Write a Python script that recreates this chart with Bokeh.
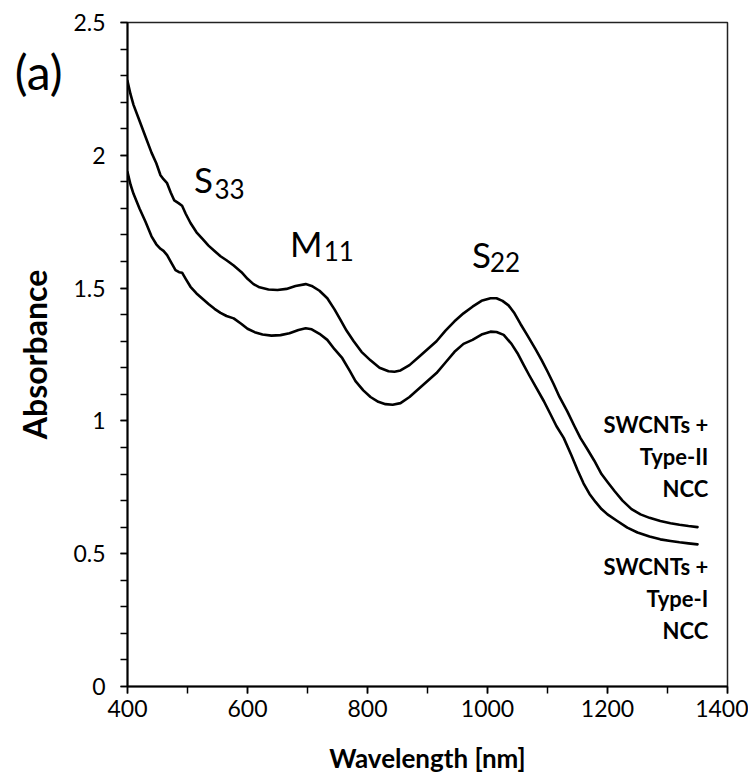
from bokeh.plotting import figure
from bokeh.models import Label, Range1d, SingleIntervalTicker, LinearAxis, FixedTicker
from bokeh.embed import file_html
from bokeh.resources import INLINE

# Wavelength (nm) and absorbance values
wl_type2 = [400, 405, 410, 420, 430, 440, 448, 455, 460, 466, 472, 478, 485, 491, 497, 505,
            515, 525, 535, 545, 555, 565, 577, 590, 600, 610, 620, 635, 650, 665, 680, 697,
            707, 720, 733, 745, 755, 765, 777, 790, 805, 820, 835, 845, 855, 870, 885, 900,
            915, 930, 945, 960, 975, 990, 1005, 1015, 1025, 1035, 1045, 1055, 1066, 1080,
            1090, 1100, 1110, 1120, 1133, 1145, 1155, 1166, 1178, 1190, 1200, 1212, 1225,
            1240, 1255, 1270, 1288, 1305, 1320, 1335, 1350]
abs_type2 = [2.28, 2.23, 2.19, 2.13, 2.07, 2.01, 1.97, 1.925, 1.91, 1.895, 1.86, 1.83, 1.82,
             1.81, 1.78, 1.745, 1.71, 1.685, 1.66, 1.64, 1.62, 1.605, 1.585, 1.56, 1.535,
             1.515, 1.503, 1.495, 1.493, 1.497, 1.508, 1.515, 1.508, 1.49, 1.462, 1.42, 1.38,
             1.34, 1.30, 1.26, 1.228, 1.20, 1.187, 1.185, 1.19, 1.21, 1.24, 1.27, 1.30, 1.34,
             1.375, 1.405, 1.43, 1.452, 1.462, 1.462, 1.452, 1.435, 1.405, 1.365, 1.324, 1.27,
             1.23, 1.186, 1.14, 1.09, 1.036, 0.98, 0.935, 0.895, 0.85, 0.80, 0.77, 0.735, 0.70,
             0.668, 0.648, 0.635, 0.623, 0.615, 0.609, 0.604, 0.60]

wl_type1 = [400, 405, 410, 420, 430, 440, 448, 455, 460, 466, 472, 480, 486, 491, 497, 505,
            515, 525, 535, 545, 555, 565, 577, 590, 600, 612, 625, 640, 655, 670, 685, 697,
            707, 720, 733, 745, 758, 770, 780, 793, 805, 818, 830, 842, 855, 870, 885, 900,
            915, 930, 945, 960, 975, 990, 1005, 1015, 1027, 1040, 1050, 1060, 1070, 1080,
            1094, 1105, 1115, 1127, 1140, 1150, 1160, 1170, 1180, 1190, 1200, 1215, 1233,
            1250, 1270, 1288, 1305, 1320, 1335, 1350]
abs_type1 = [1.937, 1.89, 1.855, 1.80, 1.75, 1.695, 1.665, 1.648, 1.64, 1.624, 1.60, 1.568,
             1.56, 1.558, 1.535, 1.505, 1.48, 1.46, 1.44, 1.422, 1.407, 1.395, 1.386, 1.365,
             1.347, 1.334, 1.325, 1.321, 1.323, 1.33, 1.342, 1.349, 1.345, 1.328, 1.305, 1.27,
             1.236, 1.19, 1.15, 1.115, 1.09, 1.072, 1.063, 1.061, 1.067, 1.09, 1.12, 1.15,
             1.18, 1.22, 1.26, 1.29, 1.305, 1.325, 1.336, 1.335, 1.324, 1.29, 1.255, 1.212,
             1.17, 1.13, 1.074, 1.025, 0.98, 0.936, 0.87, 0.815, 0.765, 0.725, 0.695, 0.668,
             0.648, 0.625, 0.598, 0.58, 0.565, 0.554, 0.548, 0.543, 0.539, 0.535]

FONT = "Lato"

p = figure(frame_width=600, frame_height=664, output_backend="svg", toolbar_location=None,
           x_range=Range1d(400, 1400), y_range=Range1d(0, 2.5),
           min_border_left=127, min_border_right=21, min_border_top=22, min_border_bottom=88)
p.background_fill_color = "white"
p.border_fill_color = "white"
p.grid.visible = False
p.outline_line_color = "#222222"
p.outline_line_width = 1.5

xax = p.xaxis[0]
yax = p.yaxis[0]
xax.ticker = SingleIntervalTicker(interval=200, num_minor_ticks=2)
yax.ticker = SingleIntervalTicker(interval=0.5, num_minor_ticks=5)
for ax in (xax, yax):
    ax.axis_line_color = "black"
    ax.axis_line_width = 2
    ax.major_tick_line_color = "black"
    ax.minor_tick_line_color = "black"
    ax.major_tick_line_width = 1.5
    ax.minor_tick_line_width = 1.5
    ax.major_tick_in = 0
    ax.major_tick_out = 7
    ax.minor_tick_in = 0
    ax.minor_tick_out = 7
    ax.major_label_text_font = FONT
    ax.major_label_text_font_size = "23px"
    ax.major_label_text_color = "black"
    ax.axis_label_text_font = FONT
    ax.axis_label_text_font_style = "bold"
    ax.axis_label_text_color = "black"

xax.axis_label = "Wavelength [nm]"
yax.axis_label = "Absorbance"
xax.axis_label_text_font_size = "26px"
yax.axis_label_text_font_size = "32px"
xax.major_label_standoff = 6
yax.major_label_standoff = 15
xax.axis_label_standoff = 22
yax.axis_label_standoff = 16
yax.formatter.use_scientific = False

# Panel letter "(a)": drawn as the single label of an extra, otherwise invisible left axis
panel_tick = [2.315]
panel_ax = LinearAxis(ticker=FixedTicker(ticks=panel_tick, minor_ticks=[]),
                      major_label_overrides={panel_tick[0]: "(a)"},
                      axis_line_color=None, major_tick_line_color=None, minor_tick_line_color=None,
                      major_tick_in=0, major_tick_out=0, minor_tick_in=0, minor_tick_out=0,
                      major_label_standoff=-50, major_label_text_font=FONT,
                      major_label_text_font_size="48px", major_label_text_color="black")
p.add_layout(panel_ax, "left")

p.line(wl_type2, abs_type2, line_color="black", line_width=2.6, line_cap="round", line_join="round")
p.line(wl_type1, abs_type1, line_color="black", line_width=2.6, line_cap="round", line_join="round")

def lab(x, y, text, size, style="normal", align="left"):
    p.add_layout(Label(x=x, y=y, text=text, text_font=FONT, text_font_size=size,
                       text_font_style=style, text_align=align, text_baseline="alphabetic",
                       text_color="black"))

# Peak labels with subscripts
lab(511, 1.91, "S", "35px")
lab(545, 1.875, "33", "26px")
lab(671, 1.67, "M", "35px")
lab(727, 1.64, "11", "26px")
lab(974, 1.63, "S", "35px")
lab(1004, 1.60, "22", "26px")

# Series annotations
for txt, y in [("SWCNTs +", 0.985), ("Type-II", 0.865), ("NCC", 0.745),
               ("SWCNTs +", 0.45), ("Type-I", 0.33), ("NCC", 0.21)]:
    lab(1368, y, txt, "22px", "bold", "right")

open("out.html", "w").write(file_html(p, INLINE))
